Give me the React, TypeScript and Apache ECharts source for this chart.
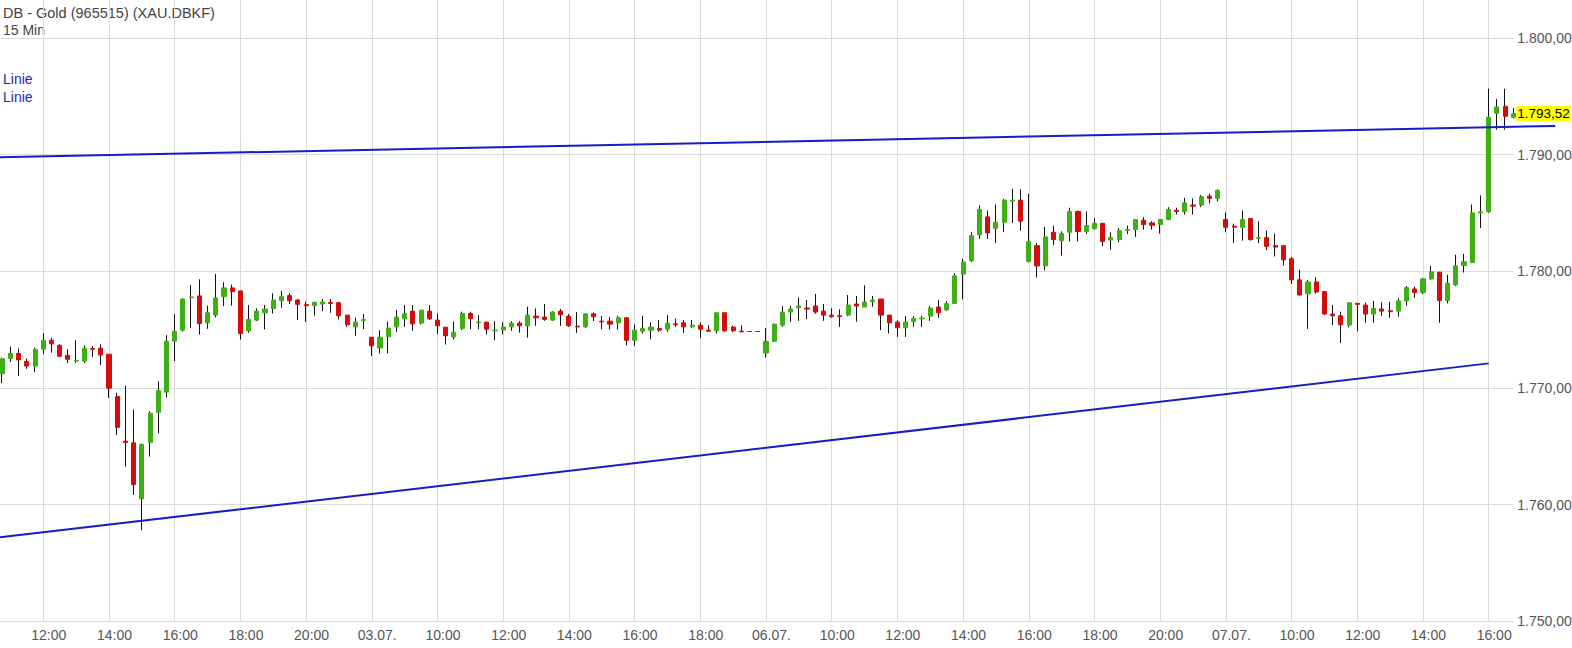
import React, { useEffect, useRef } from "react";
import * as echarts from "echarts";

// trading sessions: [day label, first candle (minutes after midnight), number of 15 min candles]
const sessions: [string, number, number][] = [
  ["02.07.", 10 * 60 + 45, 45],
  ["03.07.", 8 * 60, 48],
  ["06.07.", 8 * 60, 56],
  ["07.07.", 8 * 60, 36],
];

// 15 min candles
const opens = [
  1771.22, 1772.54, 1772.97, 1772.28, 1771.88, 1773.32, 1774.09, 1773.66, 1772.8, 1772.31,
  1772.31, 1773.38, 1773.41, 1772.89, 1769.27, 1765.44, 1765.3, 1760.5, 1765.33, 1767.92,
  1769.64, 1774.01, 1774.96, 1777.74, 1777.89, 1775.59, 1776.25, 1777.83, 1778.58, 1778.32,
  1774.9, 1775.82, 1776.45, 1776.8, 1777.48, 1777.92, 1777.54, 1777.14, 1777.06, 1777.2,
  1777.34, 1777.31, 1776.25, 1775.24, 1775.79, 1774.35, 1773.43, 1774.38, 1775.24, 1775.93,
  1776.59, 1775.56, 1776.59, 1775.82, 1775.21, 1774.38, 1775.1, 1776.39, 1775.59, 1775.65,
  1774.9, 1774.98, 1775.24, 1775.56, 1775.33, 1776.16, 1776.08, 1775.82, 1776.59, 1776.16,
  1775.3, 1775.24, 1776.36, 1775.73, 1775.73, 1775.59, 1776.02, 1774.09, 1774.87, 1774.96,
  1775.1, 1775.04, 1775.5, 1775.59, 1775.24, 1775.38, 1774.96, 1774.9, 1776.45, 1775.22,
  1774.87, 1774.84, 1774.84, 1773.0, 1774.01, 1775.39, 1776.51, 1776.88, 1776.85, 1777.03,
  1776.59, 1776.25, 1776.19, 1776.25, 1777.2, 1776.94, 1777.4, 1777.63, 1776.25, 1775.65,
  1775.16, 1775.68, 1775.93, 1776.16, 1776.94, 1776.7, 1777.25, 1779.76, 1780.91, 1783.12,
  1784.67, 1783.69, 1784.21, 1786.02, 1786.11, 1780.85, 1782.2, 1780.47, 1783.35, 1782.63,
  1783.35, 1785.13, 1783.41, 1783.66, 1784.12, 1782.69, 1782.72, 1783.52, 1783.58, 1784.38,
  1784.15, 1784.01, 1784.44, 1785.24, 1785.1, 1785.68, 1785.68, 1786.45, 1786.25, 1784.44,
  1783.87, 1783.78, 1784.53, 1782.83, 1782.89, 1782.2, 1782.2, 1781.08, 1779.27, 1778.08,
  1779.09, 1778.26, 1776.34, 1776.19, 1775.39, 1777.26, 1777.11, 1776.34, 1776.77, 1776.62,
  1776.59, 1777.46, 1778.49, 1778.18, 1779.35, 1779.93, 1777.49, 1778.84, 1780.5, 1780.76,
  1785.01, 1785.1, 1793.55, 1794.15, 1793.2,
];
const closes = [
  1772.51, 1772.97, 1772.4, 1771.88, 1773.32, 1774.09, 1773.78, 1772.72, 1772.46, 1772.37,
  1773.41, 1773.32, 1772.83, 1769.99, 1766.62, 1765.33, 1761.71, 1765.16, 1767.83, 1769.79,
  1774.01, 1774.87, 1777.63, 1777.8, 1775.53, 1776.45, 1777.72, 1778.58, 1778.26, 1774.67,
  1775.88, 1776.59, 1776.77, 1777.54, 1777.83, 1777.48, 1777.17, 1777.06, 1777.34, 1777.37,
  1777.25, 1776.19, 1775.42, 1775.65, 1775.85, 1773.61, 1774.35, 1775.13, 1776.08, 1776.36,
  1775.5, 1776.68, 1775.93, 1775.33, 1774.47, 1774.78, 1776.39, 1775.96, 1775.65, 1775.04,
  1774.96, 1775.23, 1775.56, 1775.33, 1776.25, 1776.02, 1775.88, 1776.51, 1776.28, 1775.33,
  1775.24, 1776.36, 1776.1, 1775.67, 1775.47, 1776.02, 1774.09, 1774.96, 1775.1, 1775.22,
  1774.96, 1775.56, 1775.41, 1775.24, 1775.38, 1775.04, 1774.87, 1776.45, 1774.9, 1774.9,
  1774.81, 1774.84, 1774.84, 1774.0, 1775.47, 1776.51, 1776.77, 1777.03, 1776.77, 1776.51,
  1776.25, 1776.11, 1776.11, 1777.11, 1777.03, 1777.37, 1777.54, 1776.25, 1775.59, 1775.16,
  1775.65, 1775.96, 1775.99, 1776.85, 1776.45, 1777.23, 1779.61, 1780.79, 1783.06, 1785.3,
  1783.29, 1784.21, 1786.11, 1786.11, 1784.3, 1782.54, 1780.47, 1782.95, 1782.72, 1783.23,
  1785.13, 1783.41, 1783.92, 1784.12, 1782.57, 1782.89, 1783.49, 1783.58, 1784.44, 1784.01,
  1783.95, 1784.44, 1785.3, 1785.13, 1785.88, 1785.59, 1786.39, 1786.25, 1786.94, 1783.78,
  1783.78, 1784.44, 1782.72, 1782.89, 1782.14, 1782.08, 1780.99, 1779.27, 1777.97, 1779.09,
  1778.23, 1776.34, 1776.19, 1775.42, 1777.31, 1777.17, 1776.34, 1776.82, 1776.59, 1776.54,
  1777.46, 1778.61, 1778.18, 1779.35, 1779.96, 1777.49, 1778.98, 1780.47, 1780.82, 1785.01,
  1785.1, 1793.2, 1794.09, 1793.29, 1793.52,
];
const lows = [
  1770.42, 1772.23, 1771.02, 1771.65, 1771.36, 1772.89, 1773.03, 1772.66, 1772.14, 1772.14,
  1772.14, 1772.66, 1771.97, 1769.15, 1765.96, 1763.26, 1760.84, 1757.8, 1764.12, 1766.11,
  1769.21, 1772.31, 1774.84, 1775.16, 1774.58, 1775.07, 1776.05, 1777.03, 1777.06, 1774.15,
  1774.73, 1775.73, 1775.02, 1776.39, 1776.88, 1777.2, 1775.83, 1775.66, 1776.2, 1776.59,
  1776.45, 1775.88, 1775.24, 1774.48, 1775.04, 1772.75, 1772.94, 1772.97, 1774.81, 1775.24,
  1774.9, 1775.44, 1775.82, 1774.61, 1773.72, 1774.15, 1774.96, 1775.04, 1775.04, 1774.58,
  1774.09, 1774.58, 1774.9, 1774.75, 1774.32, 1775.33, 1775.76, 1775.76, 1775.33, 1775.24,
  1774.73, 1775.15, 1775.73, 1775.04, 1775.01, 1775.01, 1773.66, 1773.61, 1774.67, 1774.18,
  1774.81, 1774.81, 1775.24, 1774.73, 1775.15, 1774.29, 1774.81, 1774.67, 1774.81, 1774.81,
  1774.81, 1774.84, 1774.84, 1772.6, 1773.95, 1775.24, 1775.68, 1775.76, 1775.91, 1776.36,
  1775.76, 1776.02, 1775.24, 1776.16, 1775.68, 1776.94, 1776.97, 1774.96, 1774.67, 1774.38,
  1774.38, 1775.24, 1775.24, 1775.76, 1776.02, 1776.62, 1777.2, 1777.6, 1780.79, 1782.77,
  1782.77, 1782.43, 1783.38, 1784.15, 1783.49, 1780.76, 1779.47, 1780.07, 1782.23, 1781.36,
  1782.57, 1782.57, 1783.2, 1783.58, 1782.14, 1781.85, 1782.49, 1783.2, 1782.95, 1783.58,
  1783.58, 1783.23, 1784.38, 1784.87, 1784.87, 1784.87, 1785.5, 1785.82, 1785.99, 1783.35,
  1782.43, 1782.63, 1782.63, 1782.43, 1781.8, 1781.28, 1780.5, 1778.92, 1777.92, 1775.07,
  1778.09, 1776.28, 1775.39, 1773.86, 1775.19, 1774.87, 1775.59, 1775.59, 1776.19, 1776.02,
  1776.11, 1777.05, 1777.74, 1778.03, 1779.27, 1775.59, 1777.26, 1778.75, 1779.9, 1780.7,
  1783.72, 1785.01, 1792.14, 1792.14, 1793.12,
];
const highs = [
  1772.6, 1773.55, 1773.38, 1772.51, 1773.46, 1774.7, 1774.3, 1773.75, 1773.32, 1774.09,
  1773.66, 1773.59, 1773.75, 1772.89, 1769.58, 1770.21, 1768.15, 1765.24, 1768.0, 1770.56,
  1774.53, 1776.33, 1777.69, 1778.84, 1779.32, 1777.06, 1779.78, 1779.07, 1778.86, 1778.32,
  1777.11, 1776.82, 1777.11, 1778.12, 1778.32, 1778.12, 1777.63, 1777.4, 1777.4, 1777.63,
  1777.63, 1777.37, 1776.25, 1776.02, 1776.34, 1774.35, 1774.96, 1775.7, 1776.68, 1777.11,
  1777.11, 1776.68, 1777.11, 1776.39, 1775.21, 1775.7, 1776.54, 1776.54, 1776.25, 1775.65,
  1775.73, 1775.65, 1775.73, 1775.73, 1776.97, 1776.82, 1777.2, 1776.59, 1776.77, 1776.34,
  1776.51, 1776.36, 1776.48, 1776.16, 1776.1, 1776.19, 1776.08, 1775.44, 1776.19, 1775.62,
  1775.82, 1776.25, 1775.96, 1775.82, 1775.82, 1775.62, 1775.38, 1776.45, 1776.45, 1775.36,
  1775.38, 1774.84, 1774.84, 1775.15, 1775.53, 1777.03, 1777.03, 1777.77, 1777.54, 1778.06,
  1777.2, 1776.82, 1776.74, 1777.97, 1777.89, 1778.8, 1777.89, 1777.63, 1776.25, 1775.82,
  1776.16, 1776.16, 1776.19, 1777.03, 1777.54, 1777.43, 1779.84, 1781.08, 1783.35, 1785.65,
  1785.22, 1785.73, 1786.22, 1787.08, 1787.03, 1786.65, 1782.43, 1783.81, 1783.92, 1783.43,
  1785.45, 1785.22, 1785.13, 1784.55, 1784.12, 1783.35, 1783.72, 1783.92, 1784.44, 1784.64,
  1784.3, 1784.5, 1785.5, 1785.45, 1786.31, 1786.25, 1786.54, 1786.65, 1787.03, 1785.04,
  1784.09, 1785.22, 1784.58, 1784.3, 1783.49, 1783.23, 1782.2, 1781.22, 1780.13, 1779.27,
  1779.5, 1778.32, 1777.11, 1776.54, 1777.31, 1777.26, 1777.31, 1777.46, 1777.34, 1777.4,
  1777.69, 1778.75, 1778.69, 1779.44, 1780.46, 1779.93, 1779.7, 1781.42, 1781.51, 1785.73,
  1786.51, 1795.65, 1794.78, 1795.65, 1794.01,
];

// trend lines: [candle index, price]
const upperLine = [
  [-0.27, 1789.78],
  [189.1, 1792.46],
];
const lowerLine = [
  [-0.27, 1757.2],
  [181.0, 1772.11],
];

const yTicks = [1750, 1760, 1770, 1780, 1790, 1800];

const GREEN = "#3fb014";
const RED = "#d40c0c";
const BLUE = "#1a1ac8";
const FONT = "Arial, 'Liberation Sans', sans-serif";

const Y_MIN = 1750;
const Y_MAX = 1803.26;

const fmtDe = (v: number) => {
  const [i, d] = v.toFixed(2).split(".");
  return i.replace(/\B(?=(\d{3})+$)/g, ".") + "," + d;
};

export default function App() {
  const chartRef = useRef<HTMLDivElement>(null);

  useEffect(() => {
    document.body.style.margin = "0";
    if (!chartRef.current) return;
    const chart = echarts.init(chartRef.current, undefined, { renderer: "svg" });

    // categories: one empty slot in front, then every candle
    const cats: string[] = [""];
    sessions.forEach(([day, start, count]) => {
      for (let i = 0; i < count; i++) {
        const m = start + i * 15;
        const hh = String(Math.floor(m / 60)).padStart(2, "0");
        const mm = String(m % 60).padStart(2, "0");
        cats.push(`${day} ${hh}:${mm}`);
      }
    });
    const isLabel = (idx: number) => {
      const c = cats[idx];
      if (!c) return false;
      const [h, m] = c.split(" ")[1].split(":").map(Number);
      return m === 0 && h % 2 === 0;
    };
    const labelText = (c: string) => {
      if (!c) return "";
      const [day, t] = c.split(" ");
      return t === "08:00" ? day : t;
    };

    const empty = ["-", "-", "-", "-"];
    const ohlc = opens.map((o, i) => [o, closes[i], lows[i], highs[i]]);
    const bodies = opens.map((o, i) => [o, closes[i], Math.min(o, closes[i]), Math.max(o, closes[i])]);
    const lastClose = closes[closes.length - 1];

    // the trend lines sit in a wider twin grid so the upper one can run past the last candle
    const gridLeft = -5.97;
    const gridRight = 58.7;
    const step = (1572 - gridRight - gridLeft) / (cats.length - 1);
    const wideRight = 16;
    const wideMax = -1 + (1572 - wideRight - gridLeft) / step;

    chart.setOption({
      animation: false,
      grid: [
        { left: gridLeft, right: gridRight, top: 0, bottom: 26.7, outerBoundsMode: "none" },
        { left: gridLeft, right: wideRight, top: 0, bottom: 26.7, outerBoundsMode: "none" },
      ],
      xAxis: [
        {
          type: "category",
          gridIndex: 0,
          data: cats,
          boundaryGap: false,
          axisLine: { show: false },
          axisTick: { show: false },
          splitLine: {
            show: true,
            interval: (idx: number) => isLabel(idx),
            lineStyle: { color: "#dadada", width: 1 },
          },
          axisLabel: {
            interval: (idx: number) => isLabel(idx),
            formatter: (v: string) => labelText(v),
            color: "#555",
            fontSize: 14,
            fontFamily: FONT,
            margin: 7,
            padding: [0, 0, 0, 11],
          },
        },
        { type: "value", gridIndex: 1, min: -1, max: wideMax, show: false },
      ],
      yAxis: [
        {
          type: "value",
          gridIndex: 0,
          position: "right",
          min: Y_MIN,
          max: Y_MAX,
          interval: 10,
          axisLine: { show: false },
          axisTick: { show: false },
          splitLine: { show: true, showMaxLine: false, lineStyle: { color: "#dadada", width: 1 } },
          axisLabel: {
            showMaxLabel: false,
            formatter: (v: number) => (yTicks.includes(v) ? fmtDe(v) : ""),
            color: "#555",
            fontSize: 14,
            fontFamily: FONT,
            margin: 4,
            padding: [0, 0, 4, 0],
          },
        },
        { type: "value", gridIndex: 1, min: Y_MIN, max: Y_MAX, show: false },
      ],
      series: [
        {
          type: "candlestick",
          name: "wick",
          data: [empty, ...ohlc],
          barWidth: 1,
          clip: false,
          silent: true,
          z: 2,
          itemStyle: {
            color: "#111",
            color0: "#111",
            borderColor: "#111",
            borderColor0: "#111",
            borderColorDoji: "#111",
            borderWidth: 1,
          },
        },
        {
          type: "candlestick",
          name: "body",
          data: [empty, ...bodies],
          barWidth: 4.6,
          clip: false,
          silent: true,
          z: 3,
          itemStyle: {
            color: GREEN,
            color0: RED,
            borderColor: GREEN,
            borderColor0: RED,
            borderColorDoji: RED,
            borderWidth: 1,
          },
          markLine: {
            silent: true,
            symbol: "none",
            lineStyle: { color: "rgba(0,0,0,0)", width: 1 },
            data: [{ yAxis: lastClose }],
            label: {
              show: true,
              position: "end",
              distance: 3,
              formatter: () => fmtDe(lastClose),
              backgroundColor: "#ffff00",
              color: "#000",
              fontSize: 13.5,
              fontFamily: FONT,
              padding: [1, 1, 0, 1],
            },
          },
        },
        {
          type: "line",
          name: "Linie",
          xAxisIndex: 1,
          yAxisIndex: 1,
          data: upperLine,
          showSymbol: false,
          clip: false,
          silent: true,
          z: 5,
          lineStyle: { color: BLUE, width: 2 },
        },
        {
          type: "line",
          name: "Linie",
          xAxisIndex: 1,
          yAxisIndex: 1,
          data: lowerLine,
          showSymbol: false,
          clip: false,
          silent: true,
          z: 5,
          lineStyle: { color: BLUE, width: 2 },
        },
      ],
      graphic: [
        {
          type: "text",
          left: 3,
          top: 5,
          style: { text: "DB - Gold (965515) (XAU.DBKF)", fill: "#444", font: `14.5px ${FONT}` },
        },
        {
          type: "text",
          left: 3,
          top: 23,
          style: { text: "15 Min", fill: "#444", font: `14px ${FONT}` },
        },
        {
          type: "text",
          left: 3,
          top: 72,
          style: { text: "Linie", fill: "#1f1fb4", font: `14px ${FONT}` },
        },
        {
          type: "text",
          left: 3,
          top: 90,
          style: { text: "Linie", fill: "#1f1fb4", font: `14px ${FONT}` },
        },
      ],
    });

    return () => {
      chart.dispose();
    };
  }, []);

  return <div ref={chartRef} style={{ width: "1572px", height: "648px" }} />;
}
